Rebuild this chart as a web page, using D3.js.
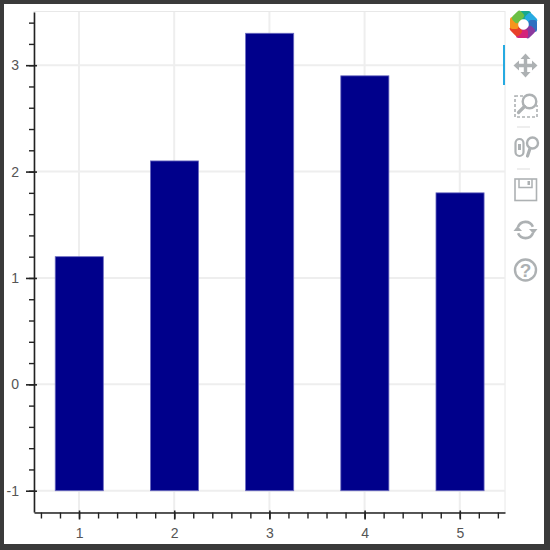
<!DOCTYPE html>
<html>
<head>
<meta charset="utf-8">
<script src="https://cdn.jsdelivr.net/npm/d3@7"></script>
<style>
html,body{margin:0;padding:0;background:#3a3a3a;}
svg{display:block;}
</style>
</head>
<body>
<div id="chart"></div>
<script>
const categories = [1, 2, 3, 4, 5];
const values = [1.2, 2.1, 3.3, 2.9, 1.8];
const barBase = -1;
const barWidth = 0.5;
const xTickValues = [1, 2, 3, 4, 5];
const yTickValues = [-1, 0, 1, 2, 3];
const logoColors = ["#17a88f", "#27aae1", "#2f6fc0", "#8a3a9e", "#d4237a", "#e8402a", "#f7941e", "#6cbf45"];

const W = 550, H = 550;
const svg = d3.select("#chart").append("svg").attr("width", W).attr("height", H);

svg.append("rect").attr("width", W).attr("height", H).attr("fill", "#3a3a3a");
svg.append("rect").attr("x", 4).attr("y", 4).attr("width", 540).attr("height", 540).attr("fill", "#fff");

const x = d3.scaleLinear().domain([0.527, 5.475]).range([34, 505]);
const y = d3.scaleLinear().domain([-1.2, 3.5]).range([512, 12]);

// plot frame
svg.append("rect").attr("x", 34).attr("y", 11.5).attr("width", 471).attr("height", 501)
  .attr("fill", "none").attr("stroke", "#e8e8e8").attr("stroke-width", 1);

// grid
const grid = svg.append("g").attr("stroke", "#eeeeee").attr("stroke-width", 2);
grid.selectAll("line.gx").data(xTickValues).join("line").attr("class", "gx")
  .attr("x1", d => x(d)).attr("x2", d => x(d)).attr("y1", 12).attr("y2", 512);
grid.selectAll("line.gy").data(yTickValues).join("line").attr("class", "gy")
  .attr("x1", 34).attr("x2", 505).attr("y1", d => y(d)).attr("y2", d => y(d));

// bars
svg.append("g").selectAll("rect").data(categories).join("rect")
  .attr("x", d => x(d - barWidth / 2))
  .attr("width", d => x(d + barWidth / 2) - x(d - barWidth / 2) + 0.5)
  .attr("y", (d, i) => y(values[i]))
  .attr("height", (d, i) => y(barBase) - y(values[i]))
  .attr("fill", "#00008b")
  .attr("stroke", "#6a6ac0")
  .attr("stroke-width", 0.8);

// axes
const xMinor = d3.range(-2, 30).map(i => 1 + i * 0.2).filter(v => v > 0.55 && v < 5.47);
const yMinor = d3.range(-1, 24).map(i => -1 + i * 0.2).filter(v => v > -1.19 && v < 3.49);
const axisColor = "#222";
const labelFont = "Liberation Sans, Arial, sans-serif";

const gx = svg.append("g").attr("transform", "translate(0,512.5)");
gx.call(d3.axisBottom(x).tickValues(xMinor).tickSize(6).tickSizeOuter(0).tickFormat(""));
gx.select(".domain").remove();
gx.selectAll(".tick line").attr("stroke", axisColor).attr("stroke-width", 1.4);
const gxMajor = svg.append("g").attr("transform", "translate(0,512.5)");
gxMajor.call(d3.axisBottom(x).tickValues(xTickValues).tickSize(7).tickSizeOuter(0).tickPadding(9).tickFormat(d => String(d)));
gxMajor.select(".domain").attr("stroke", axisColor).attr("stroke-width", 1.6);
gxMajor.selectAll(".tick line").attr("y1", -2).attr("stroke", axisColor).attr("stroke-width", 1.6);
gxMajor.selectAll(".tick text").attr("font-family", labelFont).attr("font-size", 14).attr("fill", "#555");

const gy = svg.append("g").attr("transform", "translate(34,0)");
gy.call(d3.axisLeft(y).tickValues(yMinor).tickSize(5).tickSizeOuter(0).tickFormat(""));
gy.select(".domain").remove();
gy.selectAll(".tick line").attr("stroke", axisColor).attr("stroke-width", 1.4);
const gyMajor = svg.append("g").attr("transform", "translate(34,0)");
gyMajor.call(d3.axisLeft(y).tickValues(yTickValues).tickSize(8).tickSizeOuter(0).tickPadding(7).tickFormat(d => String(d)));
gyMajor.select(".domain").attr("stroke", axisColor).attr("stroke-width", 1.6);
gyMajor.selectAll(".tick line").attr("x2", -8).attr("x1", 3).attr("stroke", axisColor).attr("stroke-width", 1.6);
gyMajor.selectAll(".tick text").attr("font-family", labelFont).attr("font-size", 14).attr("fill", "#555");

// toolbar
const tb = svg.append("g");
const gray = "#adb1b3";

// logo
const lg = tb.append("g").attr("transform", "translate(523.5,24.5)");
lg.selectAll("rect").data(logoColors).join("rect")
  .attr("x", -5.5).attr("y", -4.5).attr("width", 12).attr("height", 8.5).attr("rx", 2.5)
  .attr("fill", d => d)
  .attr("transform", (d, i) => `rotate(${i * 45}) translate(1,-9)`);
lg.append("circle").attr("r", 5).attr("fill", "#fff");

// active indicator
tb.append("rect").attr("x", 503).attr("y", 45).attr("width", 2).attr("height", 40).attr("fill", "#26aae1");

// pan
tb.append("path").attr("transform", "translate(525.5,65.5)").attr("fill", gray)
  .attr("d", "M0,-12L5,-6.5L1.7,-6.5L1.7,-1.7L6.5,-1.7L6.5,-5L12,0L6.5,5L6.5,1.7L1.7,1.7L1.7,6.5L5,6.5L0,12L-5,6.5L-1.7,6.5L-1.7,1.7L-6.5,1.7L-6.5,5L-12,0L-6.5,-5L-6.5,-1.7L-1.7,-1.7L-1.7,-6.5L-5,-6.5Z");

// box zoom
tb.append("rect").attr("x", 515).attr("y", 96).attr("width", 22).attr("height", 21)
  .attr("fill", "none").attr("stroke", gray).attr("stroke-width", 1.6).attr("stroke-dasharray", "3,2");
tb.append("rect").attr("x", 524).attr("y", 92).attr("width", 15).attr("height", 13).attr("fill", "#fff");
tb.append("circle").attr("cx", 529.5).attr("cy", 101.5).attr("r", 6.8).attr("fill", "#fff").attr("stroke", gray).attr("stroke-width", 2.4);
tb.append("line").attr("x1", 524.5).attr("y1", 106.5).attr("x2", 518.5).attr("y2", 112.5).attr("stroke", gray).attr("stroke-width", 3.2).attr("stroke-linecap", "round");

// separators
[127, 169].forEach(yy => tb.append("line").attr("x1", 517).attr("x2", 530).attr("y1", yy).attr("y2", yy).attr("stroke", "#ddd").attr("stroke-width", 1));

// wheel zoom
tb.append("rect").attr("x", 515.5).attr("y", 139).attr("width", 8).attr("height", 17).attr("rx", 4)
  .attr("fill", "none").attr("stroke", gray).attr("stroke-width", 2.2);
tb.append("line").attr("x1", 519.5).attr("x2", 519.5).attr("y1", 144).attr("y2", 150).attr("stroke", gray).attr("stroke-width", 3);
tb.append("circle").attr("cx", 532.5).attr("cy", 143).attr("r", 5.5).attr("fill", "#fff").attr("stroke", gray).attr("stroke-width", 2.4);
tb.append("line").attr("x1", 530).attr("y1", 148.5).attr("x2", 527.5).attr("y2", 156).attr("stroke", gray).attr("stroke-width", 3.2).attr("stroke-linecap", "round");

// save
tb.append("rect").attr("x", 515).attr("y", 179).attr("width", 21.5).attr("height", 21.5)
  .attr("fill", "none").attr("stroke", gray).attr("stroke-width", 1.6);
tb.append("path").attr("d", "M519,179V187.5H532V179").attr("fill", "none").attr("stroke", gray).attr("stroke-width", 1.5);
tb.append("rect").attr("x", 527.5).attr("y", 181).attr("width", 2.5).attr("height", 4).attr("fill", gray);

// reset
const resetArc = d3.arc().innerRadius(6.8).outerRadius(9.4);
const rg = tb.append("g").attr("transform", "translate(525.5,230)");
rg.append("path").attr("fill", gray).attr("d", resetArc({startAngle: -1.2, endAngle: 1.15}));
rg.append("path").attr("fill", gray).attr("d", resetArc({startAngle: 1.95, endAngle: 4.3}));
rg.append("path").attr("fill", gray).attr("d", "M3.5,-1L12,-1L8,4Z");
rg.append("path").attr("fill", gray).attr("d", "M-3.5,1L-12,1L-8,-4Z");

// help
tb.append("circle").attr("cx", 525.5).attr("cy", 270).attr("r", 10.5).attr("fill", "none").attr("stroke", gray).attr("stroke-width", 2.4);
tb.append("text").attr("x", 525.5).attr("y", 277).attr("text-anchor", "middle")
  .attr("font-family", labelFont).attr("font-weight", "bold").attr("font-size", 19).attr("fill", gray).text("?");
</script>
</body>
</html>
